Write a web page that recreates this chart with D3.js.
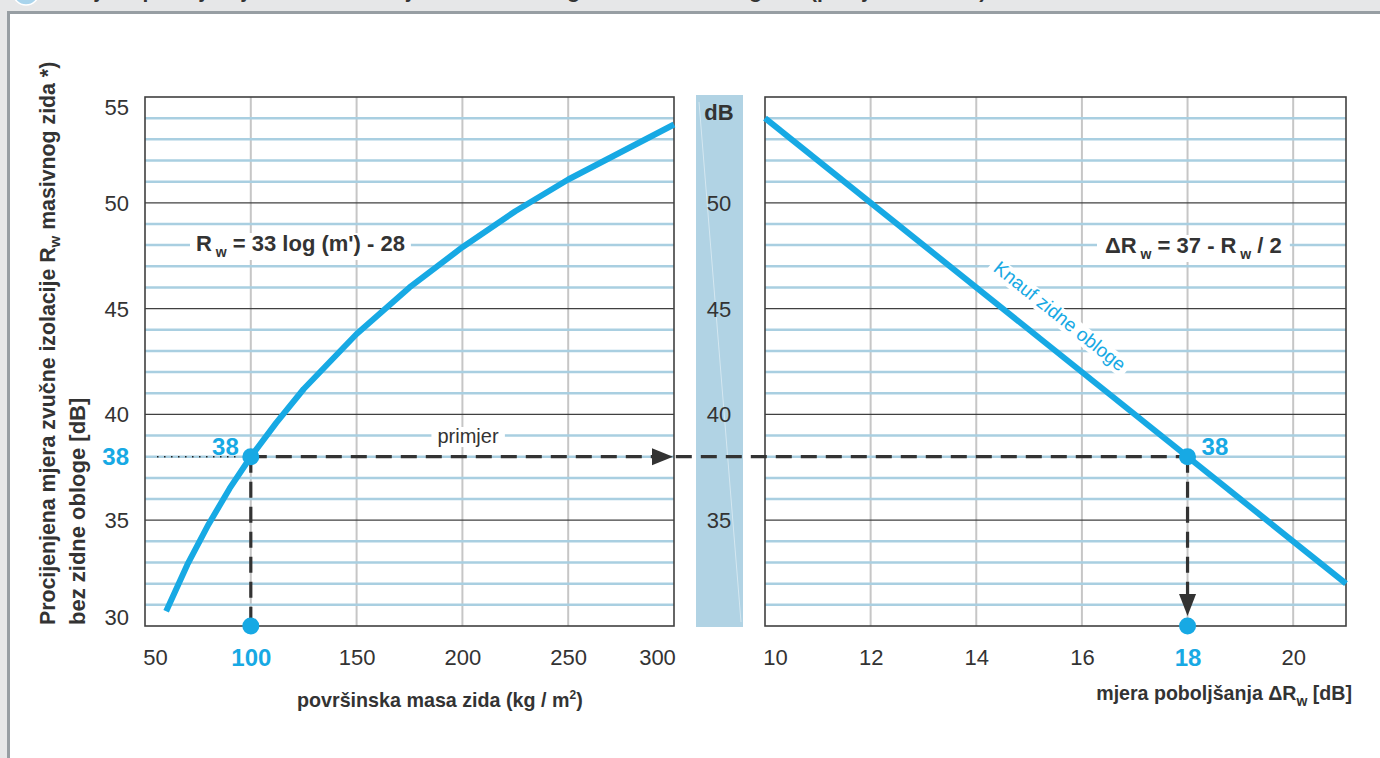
<!DOCTYPE html>
<html><head><meta charset="utf-8">
<script src="https://cdn.jsdelivr.net/npm/d3@7"></script>
<style>body{margin:0;background:#e6e7e8;} svg{display:block;}</style>
</head><body><svg id="c" width="1380" height="758"></svg>
<script>
// ---- data ----
const massTicks = [50, 100, 150, 200, 250, 300];
const massGrid = [100, 150, 200, 250];
const rwTicks = [30, 35, 38, 40, 45, 50, 55];
const rwMajor = [35, 40, 45, 50];
const bandTicks = [35, 40, 45, 50];
const dRTicks = [10, 12, 14, 16, 18, 20];
const dRGrid = [12, 14, 16, 18, 20];
const curveMass = [60, 70, 80, 90, 100, 112, 125, 150, 175, 200, 225, 250, 275, 300];
const curveRw = [30.7, 32.9, 34.8, 36.5, 38.0, 39.6, 41.2, 43.8, 46.0, 47.9, 49.6, 51.1, 52.4, 53.7];
const knaufDR = [10, 21];
const knaufRw = [54, 32];
const exampleMass = [100];
const exampleRw = [38];
const exampleDR = [18];

// ---- styling ----
const BLUE = '#17a9e4', GRIDBLUE = '#a9cfe1', DARK = '#404040', TXT = '#333', VGRID = '#c6c6c6';
const NARROW = "'Liberation Sans Narrow','Arial Narrow','Liberation Sans',Arial,sans-serif";

const svg = d3.select('#c');
const xL = d3.scaleLinear([50, 300], [145, 674]);
const xR = d3.scaleLinear([10, 21], [765, 1346]);
const y = d3.scaleLinear([30, 55], [626, 97]);

// page + frame
svg.append('rect').attr('width', 1380).attr('height', 758).attr('fill', '#e6e7e8');
svg.append('rect').attr('x', 9).attr('y', 13).attr('width', 1371).attr('height', 745).attr('fill', '#fff');
svg.append('path').attr('d', 'M8.5,758V12.5H1380').attr('stroke', '#979ea3').attr('stroke-width', 3).attr('fill', 'none');
svg.append('circle').attr('cx', 26).attr('cy', -8).attr('r', 13).attr('fill', '#a9d4ec').attr('stroke', '#fff').attr('stroke-width', 1.5);
svg.append('text').attr('x', 48).attr('y', -2).attr('font-family', NARROW).attr('font-weight', 'bold')
  .attr('font-size', 21).attr('fill', TXT).text('Procjena poboljšanja zvučne izolacije ΔRw masivnog zida zidnim oblogama (primjer izračuna)');

// panels
function panel(xs, gridVals) {
  const [x0, x1] = xs.range();
  const g = svg.append('g');
  g.selectAll('.vg').data(gridVals).join('line')
    .attr('x1', d => xs(d)).attr('x2', d => xs(d)).attr('y1', y(55)).attr('y2', y(30))
    .attr('stroke', VGRID).attr('stroke-width', 2);
  const minor = d3.range(31, 55).filter(v => v % 5 !== 0);
  g.selectAll('.hg').data(minor).join('line')
    .attr('x1', x0).attr('x2', x1).attr('y1', d => y(d)).attr('y2', d => y(d))
    .attr('stroke', GRIDBLUE).attr('stroke-width', 2.5);
  g.selectAll('.hm').data(rwMajor).join('line')
    .attr('x1', x0).attr('x2', x1).attr('y1', d => y(d)).attr('y2', d => y(d))
    .attr('stroke', DARK).attr('stroke-width', 1.3);
  g.append('rect').attr('x', x0).attr('y', y(55)).attr('width', x1 - x0).attr('height', y(30) - y(55))
    .attr('fill', 'none').attr('stroke', DARK).attr('stroke-width', 1.6);
}
panel(xL, massGrid);
panel(xR, dRGrid);

// middle dB band
svg.append('rect').attr('x', 696).attr('y', 95).attr('width', 47).attr('height', 532).attr('fill', '#b1d3e4');
svg.append('line').attr('x1', 699).attr('y1', 102).attr('x2', 741).attr('y2', 622)
  .attr('stroke', '#fff').attr('stroke-opacity', 0.45).attr('stroke-width', 1);
svg.selectAll('.bt').data(bandTicks).join('text')
  .attr('x', 719).attr('y', d => y(d)).attr('dy', '0.36em').attr('text-anchor', 'middle')
  .attr('font-family', NARROW).attr('font-size', 22).attr('fill', TXT).text(d => d);
svg.append('text').attr('x', 719).attr('y', 120).attr('text-anchor', 'middle')
  .attr('font-family', NARROW).attr('font-weight', 'bold').attr('font-size', 22).attr('fill', TXT).text('dB');

// axes
const gxL = svg.append('g').attr('transform', `translate(0,${y(30)})`)
  .call(d3.axisBottom(xL).tickValues(massTicks).tickSize(0).tickPadding(23).tickFormat(d3.format('d')));
const gxR = svg.append('g').attr('transform', `translate(0,${y(30)})`)
  .call(d3.axisBottom(xR).tickValues(dRTicks).tickSize(0).tickPadding(23).tickFormat(d3.format('d')));
const gy = svg.append('g').attr('transform', `translate(${xL(50)},0)`)
  .call(d3.axisLeft(y).tickValues(rwTicks).tickSize(0).tickPadding(16).tickFormat(d3.format('d')));
[gxL, gxR, gy].forEach(g => {
  g.select('.domain').remove();
  g.selectAll('text').attr('font-family', NARROW).attr('font-size', 22).attr('fill', TXT);
});
gxL.selectAll('.tick text').attr('dx', d => d === 50 ? 10 : d === 300 ? -17 : 0);
gxR.selectAll('.tick text').attr('dx', d => d === 10 ? 10 : 0);
gy.selectAll('.tick text').attr('dy', d => d === 55 ? '0.8em' : d === 30 ? '-0.05em' : '0.34em');
gxL.selectAll('.tick text').filter(d => exampleMass.includes(d)).attr('fill', BLUE).attr('font-weight', 'bold').attr('font-size', 24);
gxR.selectAll('.tick text').filter(d => exampleDR.includes(d)).attr('fill', BLUE).attr('font-weight', 'bold').attr('font-size', 24);
gy.selectAll('.tick text').filter(d => exampleRw.includes(d)).attr('fill', BLUE).attr('font-weight', 'bold').attr('font-size', 24);

// helper: text with white background box
function boxed(g, pad) {
  const t = g.select('text');
  const b = t.node().getBBox();
  g.insert('rect', 'text').attr('x', b.x - pad).attr('y', b.y + 2).attr('width', b.width + 2 * pad).attr('height', b.height - 2).attr('fill', '#fff');
}

// formula labels
const f1 = svg.append('g');
const t1 = f1.append('text').attr('x', 196).attr('y', 251).attr('font-family', NARROW).attr('font-weight', 'bold').attr('font-size', 22).attr('fill', TXT);
t1.append('tspan').text('R');
t1.append('tspan').attr('dy', 6).attr('font-size', 14).text(' w');
t1.append('tspan').attr('dy', -6).text(' = 33 log (m\') - 28');
boxed(f1, 6);

const f2 = svg.append('g');
const t2 = f2.append('text').attr('x', 1105).attr('y', 253).attr('font-family', NARROW).attr('font-weight', 'bold').attr('font-size', 22).attr('fill', TXT);
t2.append('tspan').text('ΔR');
t2.append('tspan').attr('dy', 6).attr('font-size', 14).text(' w');
t2.append('tspan').attr('dy', -6).text(' = 37 - R');
t2.append('tspan').attr('dy', 6).attr('font-size', 14).text(' w');
t2.append('tspan').attr('dy', -6).text(' / 2');
boxed(f2, 8);

const pr = svg.append('g');
pr.append('text').attr('x', 468).attr('y', 443).attr('text-anchor', 'middle').attr('font-family', NARROW)
  .attr('font-size', 20).attr('fill', TXT).text('primjer');
boxed(pr, 6);

const ang = Math.atan2(y(knaufRw[1]) - y(knaufRw[0]), xR(knaufDR[1]) - xR(knaufDR[0])) * 180 / Math.PI;
const kn = svg.append('g').attr('transform', `translate(1060,316) rotate(${ang})`);
kn.append('text').attr('x', 0).attr('y', 0).attr('dy', '0.35em').attr('text-anchor', 'middle').attr('font-family', NARROW)
  .attr('font-size', 19).attr('fill', BLUE).text('Knauf zidne obloge');
boxed(kn, 5);

// axis titles
const yl1 = svg.append('text').attr('transform', 'translate(55,625) rotate(-90)').attr('font-family', NARROW)
  .attr('font-weight', 'bold').attr('font-size', 21.3).attr('fill', TXT);
yl1.append('tspan').text('Procijenjena mjera zvučne izolacije  R');
yl1.append('tspan').attr('dy', 5).attr('font-size', 15).text('w');
yl1.append('tspan').attr('dy', -5).text(' masivnog zida *)');
svg.append('text').attr('transform', 'translate(85,625) rotate(-90)').attr('font-family', NARROW)
  .attr('font-weight', 'bold').attr('font-size', 22).attr('fill', TXT).text('bez zidne obloge [dB]');

const xt1 = svg.append('text').attr('x', 297).attr('y', 707).attr('font-family', NARROW)
  .attr('font-weight', 'bold').attr('font-size', 19.7).attr('fill', TXT);
xt1.append('tspan').text('površinska masa zida (kg / m');
xt1.append('tspan').attr('dy', -8).attr('font-size', 12).text('2');
xt1.append('tspan').attr('dy', 8).text(')');

const xt2 = svg.append('text').attr('x', 1352).attr('y', 700).attr('text-anchor', 'end').attr('font-family', NARROW)
  .attr('font-weight', 'bold').attr('font-size', 19.6).attr('fill', TXT);
xt2.append('tspan').text('mjera poboljšanja ΔR');
xt2.append('tspan').attr('dy', 6).attr('font-size', 14).text('w');
xt2.append('tspan').attr('dy', -6).text(' [dB]');

// curves
svg.append('path').attr('d', d3.line().x(i => xL(curveMass[i])).y(i => y(curveRw[i]))(d3.range(curveMass.length)))
  .attr('fill', 'none').attr('stroke', BLUE).attr('stroke-width', 6).attr('stroke-linejoin', 'round');
svg.append('path').attr('d', d3.line().x(i => xR(knaufDR[i])).y(i => y(knaufRw[i]))(d3.range(knaufDR.length)))
  .attr('fill', 'none').attr('stroke', BLUE).attr('stroke-width', 6);

// example construction
const ex = xL(exampleMass[0]), ey = y(exampleRw[0]), er = xR(exampleDR[0]), eb = y(30);
svg.append('line').attr('x1', 157).attr('x2', ex - 10).attr('y1', ey).attr('y2', ey)
  .attr('stroke', '#222').attr('stroke-width', 1.5).attr('stroke-dasharray', '1.5,5.5');
const dash = g => g.attr('stroke', '#333').attr('stroke-width', 3.2).attr('stroke-dasharray', '16,9').attr('fill', 'none');
svg.append('line').attr('x1', ex).attr('x2', er).attr('y1', ey).attr('y2', ey).call(dash);
svg.append('line').attr('x1', ex).attr('x2', ex).attr('y1', ey).attr('y2', eb).call(dash);
svg.append('line').attr('x1', er).attr('x2', er).attr('y1', ey).attr('y2', eb - 30).call(dash);
svg.append('path').attr('d', `M${xL(300) - 1},${ey}l-21,-8.5v17z`).attr('fill', '#333');
svg.append('path').attr('d', `M${er},${eb - 10}l-8.5,-22h17z`).attr('fill', '#333');
svg.selectAll('.dot').data([[ex, ey], [ex, eb], [er, ey], [er, eb]]).join('circle')
  .attr('cx', d => d[0]).attr('cy', d => d[1]).attr('r', 8.5).attr('fill', BLUE);
svg.append('text').attr('x', ex - 12).attr('y', ey - 2).attr('text-anchor', 'end').attr('font-family', NARROW)
  .attr('font-weight', 'bold').attr('font-size', 24).attr('fill', BLUE).text(exampleRw[0]);
svg.append('text').attr('x', er + 14).attr('y', ey - 2).attr('font-family', NARROW)
  .attr('font-weight', 'bold').attr('font-size', 24).attr('fill', BLUE).text(exampleRw[0]);
</script></body></html>
